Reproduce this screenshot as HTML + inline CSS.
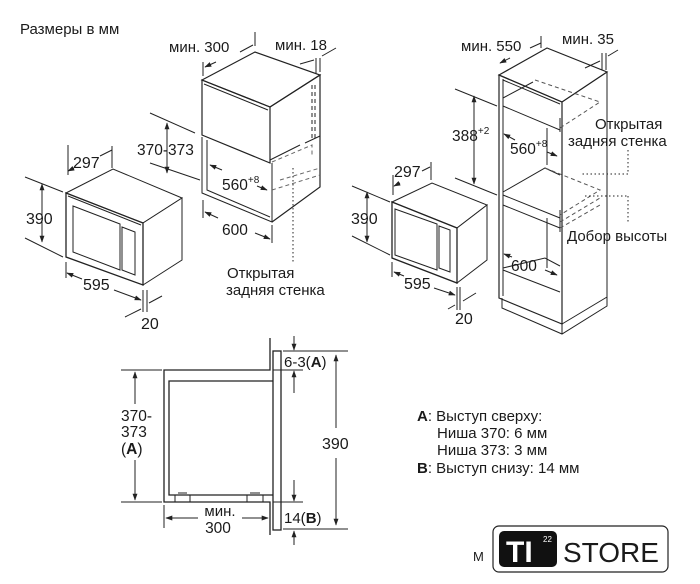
<!DOCTYPE html>
<html><head><meta charset="utf-8"><style>
html,body{margin:0;padding:0;background:#fff;}
svg{display:block;}
text{font-family:"Liberation Sans",Arial,sans-serif;fill:#1a1a1a;}
</style></head><body>
<svg width="700" height="584" viewBox="0 0 700 584" xmlns="http://www.w3.org/2000/svg">
<defs>
<marker id="a" viewBox="0 0 10 10" refX="9" refY="5" markerWidth="7" markerHeight="7" orient="auto-start-reverse"><path d="M0,1.5 L10,5 L0,8.5 z" fill="#222"/></marker>
</defs>
<g stroke="#222" stroke-width="1" fill="none">
<text x="20" y="34" font-size="15" stroke="none">Размеры в мм</text>

<!-- LEFT MICROWAVE -->
<path d="M66,193 L113,169 L182,198 L143,223 Z" fill="#fff"/>
<path d="M143,223 L182,198 L182,260 L143,285 Z" fill="#fff"/>
<path d="M66,193 L143,223 L143,285 L66,257 Z" fill="#fff" stroke-width="1.3"/>
<path d="M68,196 L141,225"/>
<path d="M73,206 L120,224 L120,270 L73,252 Z"/>
<path d="M122,227 L135,232 L135,275 L122,270 Z"/>
<path d="M25,177 L63,192 M25,238 L63,257"/>
<path d="M42,184 L42,242" marker-start="url(#a)" marker-end="url(#a)"/>
<text x="26" y="224" font-size="16" stroke="none">390</text>
<path d="M68,175 L68,145 M112,146 L112,168"/>
<path d="M68,171 L74,168 M100,156 L112,150" marker-start="url(#a)"/>
<text x="73" y="168" font-size="16" stroke="none">297</text>
<path d="M66,262 L66,278 M143,290 L143,312 M147,290 L147,312"/>
<path d="M67,273 L82,279" marker-start="url(#a)"/>
<path d="M114,290 L141,300" marker-end="url(#a)"/>
<text x="83" y="290" font-size="16" stroke="none">595</text>
<path d="M125,317 L141,309 M162,296 L149,303" />
<text x="141" y="329" font-size="16" stroke="none">20</text>

<!-- LEFT CABINET -->
<path d="M202,80 L255,52 L320,75 L270,107 Z" fill="#fff" stroke-width="1.2"/>
<path d="M270,107 L320,75 L320,187 L272,222" stroke-width="1.2"/>
<path d="M202,80 L270,107 L270,163 L202,135 Z" stroke-width="1.2"/>
<path d="M204,84 L268,110"/>
<path d="M202,137 L202,193 L272,222 L272,163"/>
<path d="M207,140 L207,190 L270,217"/>
<path d="M270,160 L300,145 M305,143 L320,136"/>
<path d="M312,85 L312,140 M315,85 L315,140" stroke-dasharray="4,3"/>
<path d="M272,162 L312,145 L312,155 M280,180 L320,168 M272,190 L320,175" stroke-dasharray="4,3" stroke="#666"/>
<path d="M293,168 L293,262" stroke-dasharray="1.5,2.5"/>
<path d="M203,76 L203,62 M255,46 L255,32 M316,74 L316,58 M320,72 L320,58"/>
<path d="M205,67 L216,62 M240,52 L253,45" marker-start="url(#a)"/>
<text x="169" y="52" font-size="15" stroke="none">мин. 300</text>
<path d="M300,64 L314,60 M336,48 L322,56" />
<text x="275" y="50" font-size="15" stroke="none">мин. 18</text>
<path d="M150,113 L195,133 M150,163 L200,180"/>
<path d="M167,123 L167,173" marker-start="url(#a)" marker-end="url(#a)"/>
<text x="137" y="155" font-size="15.5" stroke="none">370-373</text>
<path d="M210,165 L222,170" marker-start="url(#a)"/>
<path d="M257,186 L267,190" marker-end="url(#a)"/>
<text x="222" y="190" font-size="15.5" stroke="none">560<tspan font-size="10" dy="-7">+8</tspan></text>
<path d="M203,200 L203,218 M272,225 L272,243"/>
<path d="M205,212 L218,218" marker-start="url(#a)"/>
<path d="M255,233 L270,239" marker-end="url(#a)"/>
<text x="222" y="235" font-size="15.5" stroke="none">600</text>
<text x="227" y="278" font-size="15" stroke="none">Открытая</text>
<text x="226" y="295" font-size="15" stroke="none">задняя стенка</text>

<!-- RIGHT MICROWAVE -->
<path d="M392,202 L432,183 L487,205 L457,228 Z" fill="#fff"/>
<path d="M457,228 L487,205 L487,260 L457,283 Z" fill="#fff"/>
<path d="M392,202 L457,228 L457,283 L392,258 Z" fill="#fff" stroke-width="1.3"/>
<path d="M395,209 L437,224 L437,270 L395,255 Z"/>
<path d="M439,226 L450,230 L450,272 L439,268 Z"/>
<path d="M352,186 L390,202 M352,236 L390,255"/>
<path d="M367,192 L367,242" marker-start="url(#a)" marker-end="url(#a)"/>
<text x="351" y="224" font-size="16" stroke="none">390</text>
<path d="M393,195 L393,175 M431,180 L431,162"/>
<path d="M394,186 L400,183 M422,171 L430,167" marker-start="url(#a)"/>
<text x="394" y="177" font-size="16" stroke="none">297</text>
<path d="M392,262 L392,277 M457,287 L457,310 M460,287 L460,310"/>
<path d="M394,272 L404,276" marker-start="url(#a)"/>
<path d="M434,288 L455,295" marker-end="url(#a)"/>
<text x="404" y="289" font-size="16" stroke="none">595</text>
<path d="M448,309 L455,305 M476,293 L463,301"/>
<text x="455" y="324" font-size="16" stroke="none">20</text>

<!-- TALL CABINET -->
<path d="M499,75 L547,48 L607,72 L562,102 Z" fill="#fff" stroke-width="1.2"/>
<path d="M499,75 L499,298 L562,324 L562,102 Z" stroke-width="1.2"/>
<path d="M503,79 L503,296"/>
<path d="M562,102 L607,72 L607,297 L562,324"/>
<path d="M502,298 L502,308 L562,334 L607,306 L607,297 M562,324 L562,334"/>
<path d="M503,80 L560,104"/>
<path d="M503,98 L533,82 M503,106 L560,130 M560,118 L560,132"/>
<path d="M535,80 L600,102 L560,128" stroke-dasharray="4,3" stroke="#555"/>
<path d="M547,128 L547,165 M547,218 L547,268"/>
<path d="M503,192 L545,168 L560,175 M503,195 L560,218 M503,205 L560,228 M560,210 L560,232"/>
<path d="M545,168 L600,190 L560,215 M560,222 L600,198 M560,228 L600,205" stroke-dasharray="4,3" stroke="#555"/>
<path d="M503,268 L545,258 L560,266 M503,270 L560,292"/>
<path d="M541,36 L541,48 M602,53 L602,70 M606,53 L606,70"/>
<path d="M500,63 L510,58 M530,48 L541,43" marker-start="url(#a)"/>
<text x="461" y="51" font-size="15" stroke="none">мин. 550</text>
<path d="M585,68 L600,61 M618,50 L608,56"/>
<text x="562" y="44" font-size="15" stroke="none">мин. 35</text>
<path d="M455,89 L497,106 M455,178 L497,195"/>
<path d="M474,96 L474,184" marker-start="url(#a)" marker-end="url(#a)"/>
<text x="452" y="141" font-size="15.5" stroke="none">388<tspan font-size="10" dy="-7">+2</tspan></text>
<path d="M504,134 L515,140" marker-start="url(#a)"/>
<path d="M547,152 L557,156" marker-end="url(#a)"/>
<text x="510" y="154" font-size="15.5" stroke="none">560<tspan font-size="10" dy="-7">+8</tspan></text>
<path d="M504,254 L512,257" marker-start="url(#a)"/>
<path d="M545,270 L557,275" marker-end="url(#a)"/>
<text x="511" y="271" font-size="15.5" stroke="none">600</text>
<text x="595" y="129" font-size="15" stroke="none">Открытая</text>
<text x="568" y="146" font-size="15" stroke="none">задняя стенка</text>
<path d="M628,150 L628,174 L580,174 M628,196 L628,222 M585,196 L628,196" stroke-dasharray="1.5,2.5"/>
<text x="567" y="241" font-size="15" stroke="none">Добор высоты</text>

<!-- SECTION VIEW -->
<path d="M270,338 L270,370 L164,370 L164,502 L270,502 L270,535" stroke-width="1.3"/>
<path d="M273,381 L169,381 L169,495 L273,495" stroke-width="1.3"/>
<rect x="273" y="351" width="8" height="179" stroke-width="1.3"/>
<rect x="175" y="495" width="15" height="7"/>
<rect x="247" y="495" width="16" height="7"/>
<path d="M178,493 L187,493 M250,493 L260,493"/>
<path d="M283,351 L348,351 M283,529 L348,529 M273,370 L303,370 M273,502 L303,502"/>
<path d="M336,355 L336,428" marker-start="url(#a)"/>
<path d="M336,458 L336,525" marker-end="url(#a)"/>
<text x="322" y="449" font-size="16" stroke="none">390</text>
<path d="M294,336 L294,350" marker-end="url(#a)"/>
<path d="M294,393 L294,371" marker-end="url(#a)"/>
<text x="284" y="367" font-size="15" stroke="none">6-3(<tspan font-weight="bold">A</tspan>)</text>
<path d="M294,480 L294,501" marker-end="url(#a)"/>
<path d="M294,545 L294,531" marker-end="url(#a)"/>
<text x="284" y="523" font-size="15" stroke="none">14(<tspan font-weight="bold">B</tspan>)</text>
<path d="M121,370 L162,370 M121,502 L162,502"/>
<path d="M135,372 L135,404" marker-start="url(#a)"/>
<path d="M135,460 L135,500" marker-end="url(#a)"/>
<text x="121" y="421" font-size="15.5" stroke="none">370-</text>
<text x="121" y="437" font-size="15.5" stroke="none">373</text>
<text x="121" y="454" font-size="15.5" stroke="none">(<tspan font-weight="bold">A</tspan>)</text>
<path d="M164,505 L164,528"/>
<path d="M166,518 L198,518" marker-start="url(#a)"/>
<path d="M242,518 L268,518" marker-end="url(#a)"/>
<text x="220" y="516" font-size="15" text-anchor="middle" stroke="none">мин.</text>
<text x="218" y="533" font-size="15.5" text-anchor="middle" stroke="none">300</text>

<!-- LEGEND -->
<text x="417" y="421" font-size="15" stroke="none"><tspan font-weight="bold">A</tspan>: Выступ сверху:</text>
<text x="437" y="438" font-size="15" stroke="none">Ниша 370: 6 мм</text>
<text x="437" y="455" font-size="15" stroke="none">Ниша 373: 3 мм</text>
<text x="417" y="473" font-size="15" stroke="none"><tspan font-weight="bold">B</tspan>: Выступ снизу: 14 мм</text>

<!-- LOGO -->
<text x="473" y="561" font-size="13" stroke="none">M</text>
<rect x="493" y="526" width="175" height="46" rx="6" stroke-width="1.2"/>
<rect x="499" y="531" width="58" height="36" rx="5" fill="#111" stroke="none"/>
<text x="506" y="562" font-size="30" font-weight="bold" stroke="none" style="fill:#fff">TI</text>
<text x="543" y="542" font-size="8" stroke="none" style="fill:#fff">22</text>
<text x="563" y="562" font-size="28" stroke="none">STORE</text>
</g>
</svg>
</body></html>
